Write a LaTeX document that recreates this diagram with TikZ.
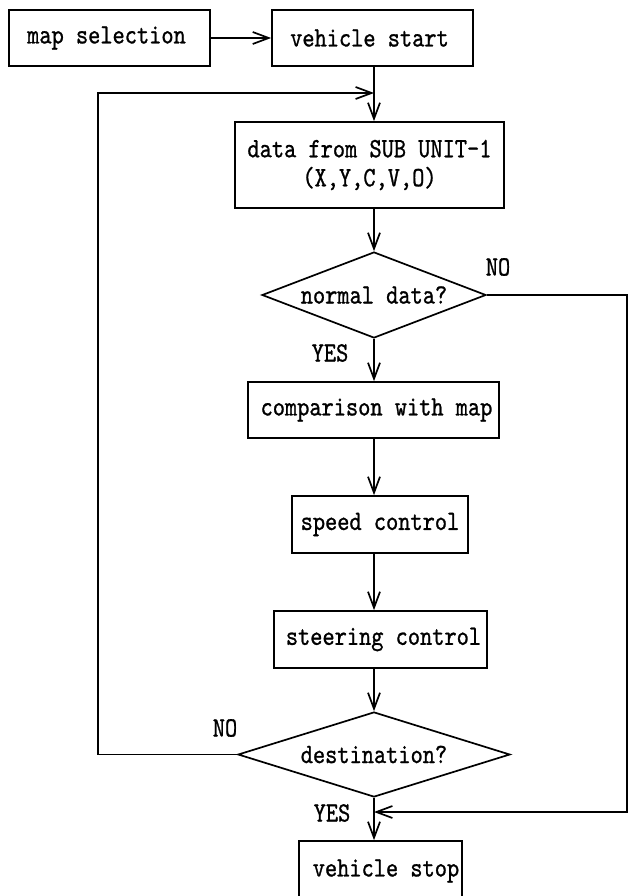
\documentclass[tikz,border=0pt]{standalone}
\usepackage{fontspec}
\newfontfamily\flowfont{lmmono10-regular.otf}[FakeStretch=0.83,FakeBold=0.9]
\usetikzlibrary{shapes.geometric,arrows.meta}
\begin{document}
\begin{tikzpicture}[x=1pt,y=-1pt,line width=1.7pt,
  every node/.style={font=\flowfont\fontsize{28}{29}\selectfont, inner sep=0pt},
  box/.style={draw, rectangle, align=center},
  dia/.style={draw, diamond},
  arr/.style={-{Straight Barb[length=16pt,width=12pt,line width=1.7pt]}}]
\clip (0,0) rectangle (628,896);
\fill[white] (0,0) rectangle (628,896);
\coordinate (ax) at (374,0);
\node[box, minimum width=201pt, minimum height=56pt] (ms) at (109.5,38) {map selection\hspace*{6pt}};
\node[box, minimum width=201pt, minimum height=56pt] (vs) at (372.5,38) {vehicle start\hspace*{6pt}};
\node[box, minimum width=269pt, minimum height=86pt] (data) at (369.5,165) {data from SUB UNIT-1\\(X,Y,C,V,O)};
\node[dia, aspect=2.6, minimum width=224pt, minimum height=86pt] (nd) at (374,295) {normal data?};
\node[box, minimum width=251pt, minimum height=56pt] (cmp) at (373.5,410) {\hspace*{6pt}comparison with map};
\node[box, minimum width=176pt, minimum height=57pt] (sp) at (380,524.5) {speed control};
\node[box, minimum width=213pt, minimum height=57pt] (st) at (380.5,639.5) {\hspace*{6pt}steering control};
\node[dia, aspect=3.2, minimum width=272pt, minimum height=85pt] (dest) at (374,754.5) {destination?};
\node[box, minimum width=163pt, minimum height=60pt] (stop) at (380.5,871) {\hspace*{11pt}vehicle stop};
\node (no1) at (498,267) {NO};
\node (yes1) at (330,353) {YES};
\node (no2) at (225,728) {NO};
\node (yes2) at (332,813) {YES};
\coordinate (lx) at (98,93);
\coordinate (rx) at (627,812);
\draw[arr] (ms) -- (vs);
\draw[arr] (vs.south -| ax) -- (data.north -| ax);
\draw[arr] (data.south -| ax) -- (nd.north);
\draw[arr] (nd.south) -- (cmp.north -| nd.south);
\draw[arr] (cmp.south -| ax) -- (sp.north -| ax);
\draw[arr] (sp.south -| ax) -- (st.north -| ax);
\draw[arr] (st.south -| ax) -- (dest.north);
\draw[arr] (dest.south) -- (stop.north -| dest.south);
\draw[arr] (dest.west) -| (lx) -- (lx -| ax);
\draw[arr] (nd.east) -| (rx) -- (rx -| ax);
\end{tikzpicture}
\end{document}
